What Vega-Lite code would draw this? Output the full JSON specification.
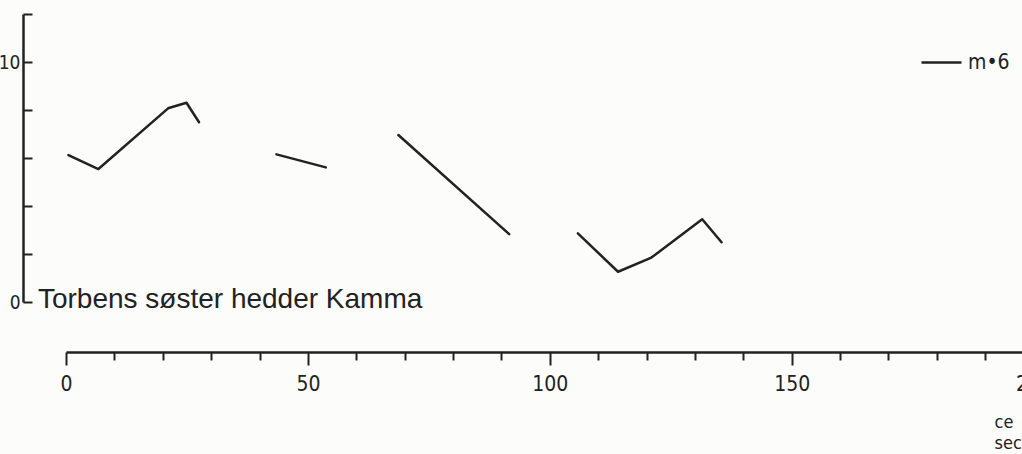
{
  "$schema": "https://vega.github.io/schema/vega-lite/v6.json",
  "autosize": {"type": "none"},
  "padding": {"left": 66, "top": 14, "right": 0, "bottom": 152},
  "width": 956,
  "height": 288,
  "background": "#fcfcfa",
  "config": {
    "view": {"stroke": null},
    "font": "'DejaVu Sans Condensed', 'Liberation Sans', sans-serif"
  },
  "layer": [
    {
      "data": {
        "values": [
          {"t": 0.5, "v": 6.12, "seg": "A", "series": "m•6"},
          {"t": 6.7, "v": 5.54, "seg": "A", "series": "m•6"},
          {"t": 21.1, "v": 8.07, "seg": "A", "series": "m•6"},
          {"t": 24.9, "v": 8.3, "seg": "A", "series": "m•6"},
          {"t": 27.5, "v": 7.49, "seg": "A", "series": "m•6"},
          {"t": 43.5, "v": 6.15, "seg": "B", "series": "m•6"},
          {"t": 53.7, "v": 5.61, "seg": "B", "series": "m•6"},
          {"t": 68.7, "v": 6.96, "seg": "C", "series": "m•6"},
          {"t": 91.6, "v": 2.83, "seg": "C", "series": "m•6"},
          {"t": 105.8, "v": 2.86, "seg": "D", "series": "m•6"},
          {"t": 114.1, "v": 1.26, "seg": "D", "series": "m•6"},
          {"t": 121.0, "v": 1.85, "seg": "D", "series": "m•6"},
          {"t": 131.5, "v": 3.45, "seg": "D", "series": "m•6"},
          {"t": 135.5, "v": 2.49, "seg": "D", "series": "m•6"}
        ]
      },
      "mark": {"type": "line", "strokeWidth": 2.5, "strokeJoin": "round", "strokeCap": "round"},
      "encoding": {
        "x": {
          "field": "t",
          "type": "quantitative",
          "scale": {"domain": [0, 210], "range": [0, 1016], "nice": false, "zero": false},
          "axis": {
            "offset": 50,
            "values": [0, 10, 20, 30, 40, 50, 60, 70, 80, 90, 100, 110, 120, 130, 140, 150, 160, 170, 180, 190, 200, 210],
            "labelExpr": "datum.value % 50 == 0 ? datum.label : ''",
            "labelOverlap": false,
            "labelFlush": false,
            "tickSize": {"condition": {"test": "datum.value % 50 == 0", "value": 13}, "value": 8},
            "tickWidth": 2,
            "tickColor": "#222",
            "domainColor": "#222",
            "domainWidth": 2.5,
            "labelColor": "#222",
            "labelFontSize": 21,
            "labelPadding": 8,
            "grid": false,
            "title": ["ce", "sec"],
            "titleAlign": "left",
            "titleX": 928,
            "titleY": 75,
            "titleBaseline": "alphabetic",
            "titleFontSize": 18,
            "titleFontWeight": "normal",
            "titleColor": "#222",
            "titleLineHeight": 21
          }
        },
        "y": {
          "field": "v",
          "type": "quantitative",
          "scale": {"domain": [0, 12], "nice": false},
          "axis": {
            "offset": 43,
            "values": [0, 1, 2, 3, 4, 5, 6, 7, 8, 9, 10, 11, 12],
            "labelExpr": "datum.value == 0 || datum.value == 10 ? datum.label : ''",
            "labelOverlap": false,
            "labelFlush": false,
            "tickSize": -9,
            "tickWidth": 2,
            "tickColor": "#222",
            "domainColor": "#222",
            "domainWidth": 2.5,
            "labelColor": "#222",
            "labelFontSize": 19,
            "labelPadding": 12,
            "grid": false,
            "title": null
          }
        },
        "detail": {"field": "seg"},
        "color": {
          "field": "series",
          "type": "nominal",
          "scale": {"range": ["#222222"]},
          "legend": {
            "orient": "none",
            "legendX": 854,
            "legendY": 27,
            "title": null,
            "symbolType": "stroke",
            "symbolSize": 1600,
            "symbolStrokeWidth": 2.5,
            "labelFontSize": 21,
            "labelColor": "#222",
            "labelOffset": 5
          }
        }
      }
    },
    {
      "data": {"values": [{"label": "Torbens søster hedder Kamma"}]},
      "mark": {"type": "text", "align": "left", "baseline": "alphabetic", "dy": 6, "fontSize": 28, "font": "Liberation Sans", "color": "#222"},
      "encoding": {
        "x": {"datum": -5.8, "type": "quantitative"},
        "y": {"datum": 0, "type": "quantitative"},
        "text": {"field": "label"}
      }
    }
  ]
}
